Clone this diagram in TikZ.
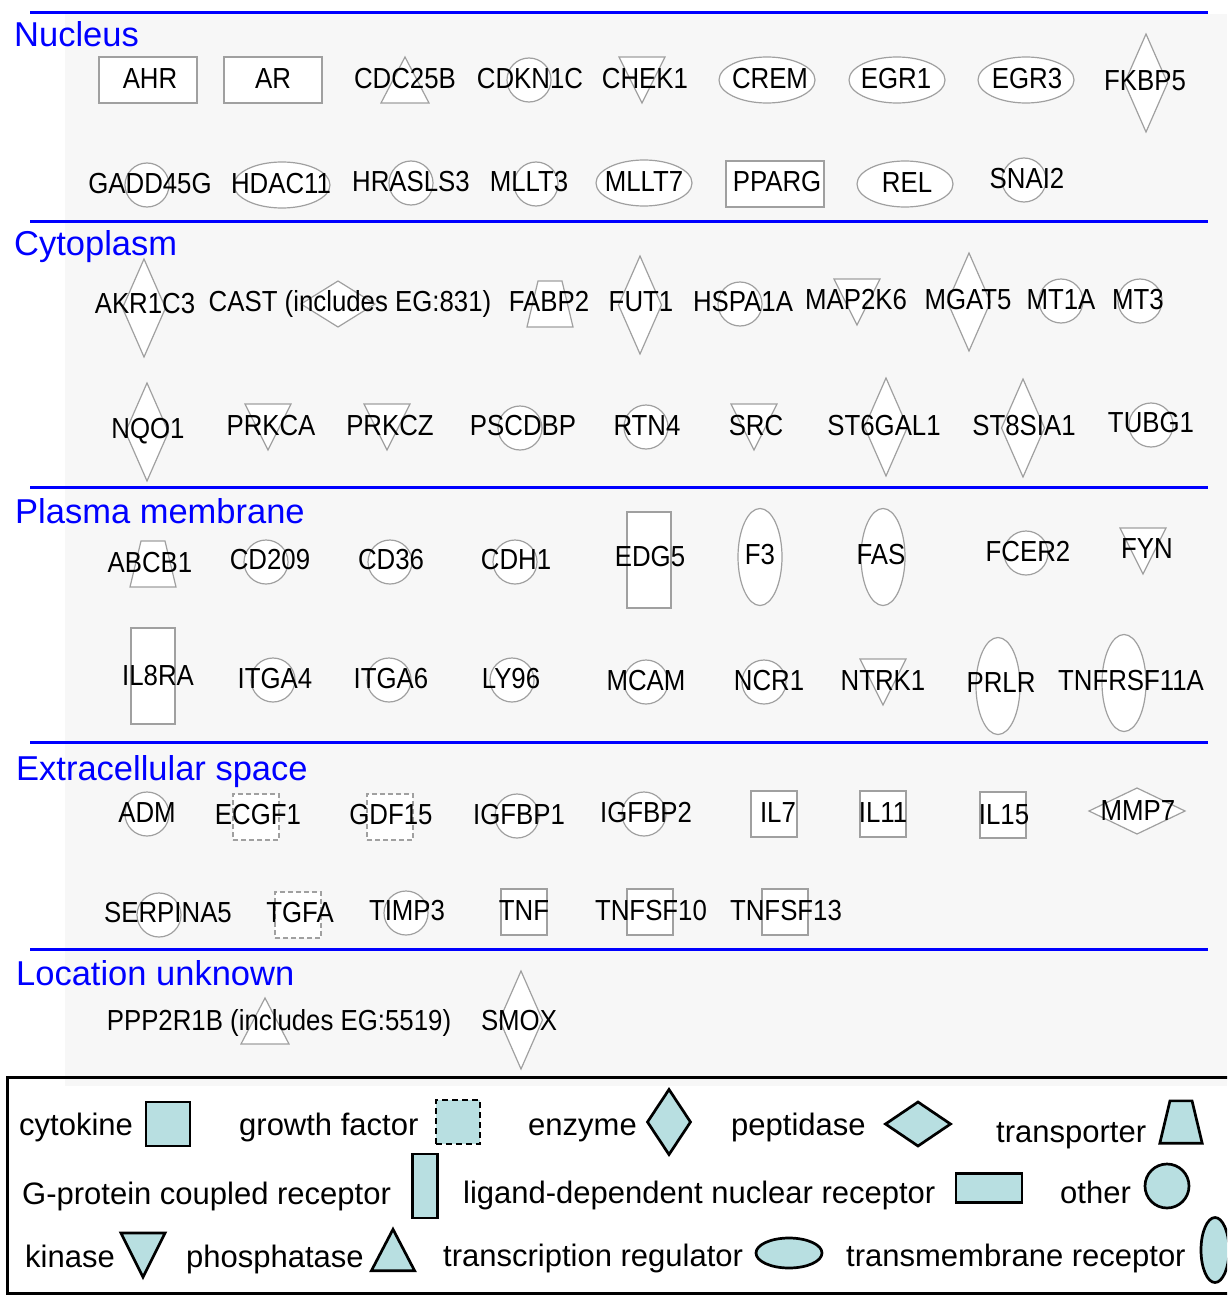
\documentclass[tikz,border=0pt]{standalone}
\usepackage{fontspec}
\setmainfont{Liberation Sans}
\newfontfamily\genefont[FakeStretch=0.89]{Liberation Sans}
\usetikzlibrary{shapes.geometric}
\definecolor{bggray}{RGB}{247,247,247}
\definecolor{sgray}{RGB}{160,160,160}
\definecolor{lblue}{RGB}{184,223,225}
\definecolor{hblue}{RGB}{0,0,255}
\begin{document}
\begin{tikzpicture}[x=1pt,y=-1pt,
  sh/.style={draw=sgray, fill=white, line width=1.2pt, inner sep=0pt, outer sep=0pt},
  lsh/.style={draw=black, fill=lblue, line width=2.7pt, inner sep=0pt, outer sep=0pt},
  oth/.style={circle, minimum size=44pt},
  trg/.style={ellipse, minimum width=96pt, minimum height=46pt},
  ldr/.style={rectangle, minimum width=98pt, minimum height=46pt},
  enz/.style={diamond, minimum width=43pt, minimum height=98pt},
  pep/.style={diamond, minimum width=74pt, minimum height=46pt},
  gpc/.style={rectangle, minimum width=44pt, minimum height=96pt},
  tmr/.style={ellipse, minimum width=44pt, minimum height=97pt},
  cyt/.style={rectangle, minimum width=46pt, minimum height=46pt},
  gfr/.style={cyt, dash pattern=on 5pt off 3pt},
  gl/.style={font=\genefont\fontsize{29}{30}\selectfont, inner sep=0pt, text height=21pt, text depth=0pt, anchor=center},
  hdr/.style={font=\fontsize{34.5}{38}\selectfont, text=hblue, inner sep=0pt, anchor=base west},
  lg/.style={font=\fontsize{31}{34}\selectfont, inner sep=0pt, anchor=base west},
  bline/.style={draw=hblue, line width=3pt},
  kin/.pic={\draw[#1] (-23,-23) -- (23,-23) -- (0,23) -- cycle;},
  pho/.pic={\draw[#1] (0,-23) -- (24,23) -- (-24,23) -- cycle;},
  tra/.pic={\draw[#1] (-12,-23) -- (12,-23) -- (23,23) -- (-23,23) -- cycle;}
]
\useasboundingbox (0,0) rectangle (1227,1295);
\clip (0,0) rectangle (1227,1295);
\fill[white] (0,0) rectangle (1227,1295);
\fill[bggray] (65,14) rectangle (1227,1086);

% compartment lines
\coordinate (l1a) at (30,13);  \coordinate (l1b) at (1208,13);
\coordinate (l2a) at (30,221); \coordinate (l2b) at (1208,221);
\coordinate (l3a) at (30,487); \coordinate (l3b) at (1208,487);
\coordinate (l4a) at (30,742); \coordinate (l4b) at (1208,742);
\coordinate (l5a) at (30,949); \coordinate (l5b) at (1208,949);
\draw[bline] (l1a) -- (l1b);
\draw[bline] (l2a) -- (l2b);
\draw[bline] (l3a) -- (l3b);
\draw[bline] (l4a) -- (l4b);
\draw[bline] (l5a) -- (l5b);

\node[hdr] (hNuc) at (14,47) {Nucleus};
\node[hdr] (hCyt) at (14,255) {Cytoplasm};
\node[hdr] (hPM) at (15,523) {Plasma membrane};
\node[hdr] (hEx) at (16,780) {Extracellular space};
\node[hdr] (hLoc) at (16,985) {Location unknown};

% ---------- shapes: Nucleus
\node[sh,ldr] (AHR-s) at (148,80) {};
\node[sh,ldr] (AR-s) at (273,80) {};
\pic at (405,80) {pho=sh};
\node[sh,oth] (CDKN1C-s) at (529,80) {};
\pic at (642,80) {kin=sh};
\node[sh,trg] (CREM-s) at (767,80) {};
\node[sh,trg] (EGR1-s) at (897,80) {};
\node[sh,trg] (EGR3-s) at (1026,80) {};
\node[sh,enz] (FKBP5-s) at (1146,83) {};
\node[sh,oth] (GADD45G-s) at (147,185) {};
\node[sh,trg] (HDAC11-s) at (282,185) {};
\node[sh,oth] (HRASLS3-s) at (411,183) {};
\node[sh,oth] (MLLT3-s) at (536,184) {};
\node[sh,trg] (MLLT7-s) at (644,183) {};
\node[sh,ldr] (PPARG-s) at (775,184) {};
\node[sh,trg] (REL-s) at (905,184) {};
\node[sh,oth] (SNAI2-s) at (1024,180) {};
% ---------- shapes: Cytoplasm
\node[sh,enz] (AKR1C3-s) at (144,308) {};
\node[sh,pep] (CAST-s) at (338,304) {};
\pic at (550,304) {tra=sh};
\node[sh,enz] (FUT1-s) at (640,305) {};
\node[sh,oth] (HSPA1A-s) at (740,304) {};
\pic at (857,302) {kin=sh};
\node[sh,enz] (MGAT5-s) at (969,302) {};
\node[sh,oth] (MT1A-s) at (1061,301) {};
\node[sh,oth] (MT3-s) at (1140,301) {};
\node[sh,enz] (NQO1-s) at (147,432) {};
\pic at (268,427) {kin=sh};
\pic at (387,427) {kin=sh};
\node[sh,oth] (PSCDBP-s) at (520,428) {};
\node[sh,oth] (RTN4-s) at (646,427) {};
\pic at (754,427) {kin=sh};
\node[sh,enz] (ST6GAL1-s) at (886,427) {};
\node[sh,enz] (ST8SIA1-s) at (1023,428) {};
\node[sh,oth] (TUBG1-s) at (1151,425) {};
% ---------- shapes: Plasma membrane
\pic at (153,564) {tra=sh};
\node[sh,oth] (CD209-s) at (266,562) {};
\node[sh,oth] (CD36-s) at (390,562) {};
\node[sh,oth] (CDH1-s) at (515,562) {};
\node[sh,gpc] (EDG5-s) at (649,560) {};
\node[sh,tmr] (F3-s) at (760,557) {};
\node[sh,tmr] (FAS-s) at (883,557) {};
\node[sh,oth] (FCER2-s) at (1026,553) {};
\pic at (1143,551) {kin=sh};
\node[sh,gpc] (IL8RA-s) at (153,676) {};
\node[sh,oth] (ITGA4-s) at (273,680) {};
\node[sh,oth] (ITGA6-s) at (389,680) {};
\node[sh,oth] (LY96-s) at (512,680) {};
\node[sh,oth] (MCAM-s) at (646,682) {};
\node[sh,oth] (NCR1-s) at (764,682) {};
\pic at (883,682) {kin=sh};
\node[sh,tmr] (PRLR-s) at (998,686) {};
\node[sh,tmr] (TNFRSF11A-s) at (1124,683) {};
% ---------- shapes: Extracellular space
\node[sh,oth] (ADM-s) at (147,814) {};
\node[sh,gfr] (ECGF1-s) at (256,817) {};
\node[sh,gfr] (GDF15-s) at (390,817) {};
\node[sh,oth] (IGFBP1-s) at (517,816) {};
\node[sh,oth] (IGFBP2-s) at (644,814) {};
\node[sh,cyt] (IL7-s) at (774,814) {};
\node[sh,cyt] (IL11-s) at (883,814) {};
\node[sh,cyt] (IL15-s) at (1003,815) {};
\node[sh,pep,minimum width=96pt] (MMP7-s) at (1137,811) {};
\node[sh,oth] (SERPINA5-s) at (159,915) {};
\node[sh,gfr] (TGFA-s) at (298,915) {};
\node[sh,oth] (TIMP3-s) at (406,913) {};
\node[sh,cyt] (TNF-s) at (524,912) {};
\node[sh,cyt] (TNFSF10-s) at (650,912) {};
\node[sh,cyt] (TNFSF13-s) at (785,912) {};
% ---------- shapes: Location unknown
\pic at (265,1021) {pho=sh};
\node[sh,enz] (SMOX-s) at (521,1020) {};

% ---------- labels
\node[gl] (AHR) at (150,78) {AHR};
\node[gl] (AR) at (273,78) {AR};
\node[gl] (CDC25B) at (405,78) {CDC25B};
\node[gl] (CDKN1C) at (530,78) {CDKN1C};
\node[gl] (CHEK1) at (645,78) {CHEK1};
\node[gl] (CREM) at (770,78) {CREM};
\node[gl] (EGR1) at (896,78) {EGR1};
\node[gl] (EGR3) at (1027,78) {EGR3};
\node[gl] (FKBP5) at (1145,80) {FKBP5};
\node[gl] (GADD45G) at (150,183) {GADD45G};
\node[gl] (HDAC11) at (281,183) {HDAC11};
\node[gl] (HRASLS3) at (411,181) {HRASLS3};
\node[gl] (MLLT3) at (529,181) {MLLT3};
\node[gl] (MLLT7) at (644,181) {MLLT7};
\node[gl] (PPARG) at (777,181) {PPARG};
\node[gl] (REL) at (907,182) {REL};
\node[gl] (SNAI2) at (1027,178) {SNAI2};

\node[gl] (AKR1C3) at (145,303) {AKR1C3};
\node[gl] (CAST) at (350,301) {CAST (includes EG:831)};
\node[gl] (FABP2) at (549,301) {FABP2};
\node[gl] (FUT1) at (641,301) {FUT1};
\node[gl] (HSPA1A) at (743,301) {HSPA1A};
\node[gl] (MAP2K6) at (856,299) {MAP2K6};
\node[gl] (MGAT5) at (968,299) {MGAT5};
\node[gl] (MT1A) at (1061,299) {MT1A};
\node[gl] (MT3) at (1138,299) {MT3};
\node[gl] (NQO1) at (148,428) {NQO1};
\node[gl] (PRKCA) at (271,425) {PRKCA};
\node[gl] (PRKCZ) at (390,425) {PRKCZ};
\node[gl] (PSCDBP) at (523,425) {PSCDBP};
\node[gl] (RTN4) at (647,425) {RTN4};
\node[gl] (SRC) at (756,425) {SRC};
\node[gl] (ST6GAL1) at (884,425) {ST6GAL1};
\node[gl] (ST8SIA1) at (1024,425) {ST8SIA1};
\node[gl] (TUBG1) at (1151,422) {TUBG1};

\node[gl] (ABCB1) at (150,562) {ABCB1};
\node[gl] (CD209) at (270,559) {CD209};
\node[gl] (CD36) at (391,559) {CD36};
\node[gl] (CDH1) at (516,559) {CDH1};
\node[gl] (EDG5) at (650,556) {EDG5};
\node[gl] (F3) at (760,554) {F3};
\node[gl] (FAS) at (881,554) {FAS};
\node[gl] (FCER2) at (1028,551) {FCER2};
\node[gl] (FYN) at (1147,548) {FYN};
\node[gl] (IL8RA) at (158,675) {IL8RA};
\node[gl] (ITGA4) at (275,678) {ITGA4};
\node[gl] (ITGA6) at (391,678) {ITGA6};
\node[gl] (LY96) at (511,678) {LY96};
\node[gl] (MCAM) at (646,680) {MCAM};
\node[gl] (NCR1) at (769,680) {NCR1};
\node[gl] (NTRK1) at (883,680) {NTRK1};
\node[gl] (PRLR) at (1001,682) {PRLR};
\node[gl] (TNFRSF11A) at (1131,680) {TNFRSF11A};

\node[gl] (ADM) at (147,812) {ADM};
\node[gl] (ECGF1) at (258,814) {ECGF1};
\node[gl] (GDF15) at (391,814) {GDF15};
\node[gl] (IGFBP1) at (519,814) {IGFBP1};
\node[gl] (IGFBP2) at (646,812) {IGFBP2};
\node[gl] (IL7) at (778,812) {IL7};
\node[gl] (IL11) at (883,812) {IL11};
\node[gl] (IL15) at (1004,814) {IL15};
\node[gl] (MMP7) at (1138,810) {MMP7};
\node[gl] (SERPINA5) at (168,912) {SERPINA5};
\node[gl] (TGFA) at (300,912) {TGFA};
\node[gl] (TIMP3) at (407,910) {TIMP3};
\node[gl] (TNF) at (524,910) {TNF};
\node[gl] (TNFSF10) at (651,910) {TNFSF10};
\node[gl] (TNFSF13) at (786,910) {TNFSF13};

\node[gl] (PPP2R1B) at (279,1020) {PPP2R1B (includes EG:5519)};
\node[gl] (SMOX) at (519,1020) {SMOX};

% ---------- legend
\fill[white] (7,1086) rectangle (1227,1293);
\draw[line width=3pt] (7,1077) rectangle (1240,1293);

\node[lg] (lcyt) at (19,1135) {cytokine};
\node[lsh,cyt,minimum width=44pt,minimum height=44pt] (lcyt-s) at (168,1124) {};
\node[lg] (lgf) at (239,1135) {growth factor};
\node[lsh,cyt,minimum width=44pt,minimum height=44pt,dash pattern=on 6pt off 4pt] (lgf-s) at (458,1122) {};
\node[lg] (lenz) at (528,1135) {enzyme};
\node[lsh,diamond,minimum width=43pt,minimum height=65pt] (lenz-s) at (669,1122) {};
\node[lg] (lpep) at (731,1135) {peptidase};
\node[lsh,diamond,minimum width=65pt,minimum height=44pt] (lpep-s) at (918,1124) {};
\node[lg] (ltra) at (996,1142) {transporter};
\pic[scale=0.92] at (1181,1122) {tra=lsh};

\node[lg] (lgpc) at (22,1204) {G-protein coupled receptor};
\node[lsh,rectangle,minimum width=25pt,minimum height=64pt] (lgpc-s) at (425,1186) {};
\node[lg] (lldr) at (463,1203) {ligand-dependent nuclear receptor};
\node[lsh,rectangle,minimum width=66pt,minimum height=29pt] (lldr-s) at (989,1188) {};
\node[lg] (loth) at (1060,1203) {other};
\node[lsh,circle,minimum size=44pt] (loth-s) at (1167,1186) {};

\node[lg] (lkin) at (25,1267) {kinase};
\pic[scale=0.96] at (143,1255) {kin=lsh};
\node[lg] (lpho) at (186,1267) {phosphatase};
\pic[xscale=0.9,yscale=0.9] at (393,1250) {pho=lsh};
\node[lg] (ltrg) at (443,1266) {transcription regulator};
\node[lsh,ellipse,minimum width=66pt,minimum height=30pt] (ltrg-s) at (789,1253) {};
\node[lg] (ltmr) at (846,1266) {transmembrane receptor};
\node[lsh,ellipse,minimum width=28pt,minimum height=65pt] (ltmr-s) at (1215,1250) {};
\end{tikzpicture}
\end{document}
